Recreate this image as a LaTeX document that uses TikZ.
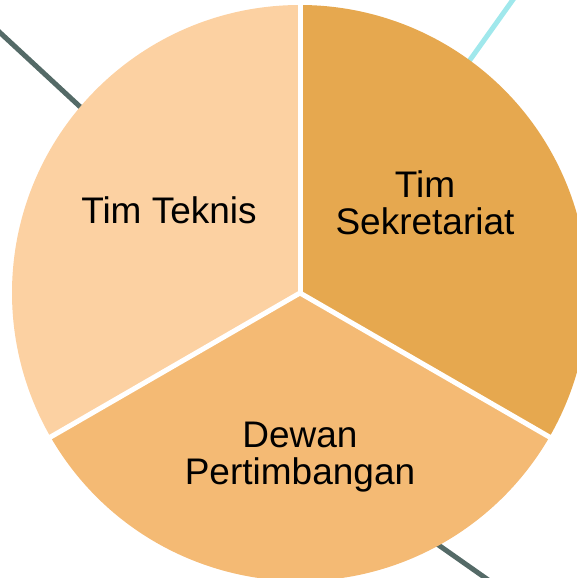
\documentclass[tikz,border=0pt]{standalone}
\usepackage{fontspec}
\setmainfont{Liberation Sans}
\definecolor{teknis}{HTML}{FCD1A2}
\definecolor{sekre}{HTML}{E6A84F}
\definecolor{dewan}{HTML}{F4BA74}
\definecolor{slate}{HTML}{546A67}
\definecolor{aqua}{HTML}{A0E8EC}
\tikzset{
  label/.style={font=\fontsize{37}{37.5}\selectfont, align=center, inner sep=0pt, anchor=base, text=black},
  deco/.style={line width=5pt},
  sep/.style={white, line width=5pt}
}
\begin{document}
\begin{tikzpicture}[x=1pt,y=1pt]
\useasboundingbox (0,0) rectangle (577,578);
\clip (0,0) rectangle (577,578);
\coordinate (c) at (300,285);
% decorative lines behind the circle
\draw[deco, slate] (-5,550) -- (130,425);
\draw[deco, aqua] (517,584) -- (450,490);
\draw[deco, slate] (494,-6) -- (400,60);
% sectors
\fill[teknis] (c) -- ++(90:288) arc[start angle=90, end angle=210, radius=288] -- cycle;
\fill[dewan] (c) -- ++(210:288) arc[start angle=210, end angle=330, radius=288] -- cycle;
\fill[sekre] (c) -- ++(-30:288) arc[start angle=-30, end angle=90, radius=288] -- cycle;
% separators
\draw[sep] (c) -- ++(90:292);
\draw[sep] (c) -- ++(210:292);
\draw[sep] (c) -- ++(-30:292);
% labels
\node[label] (teknis) at (169,354) {Tim Teknis};
\node[label] (sekretariat) at (425,343) {Tim\\Sekretariat};
\node[label] (dewanp) at (300,93) {Dewan\\Pertimbangan};
\end{tikzpicture}
\end{document}
